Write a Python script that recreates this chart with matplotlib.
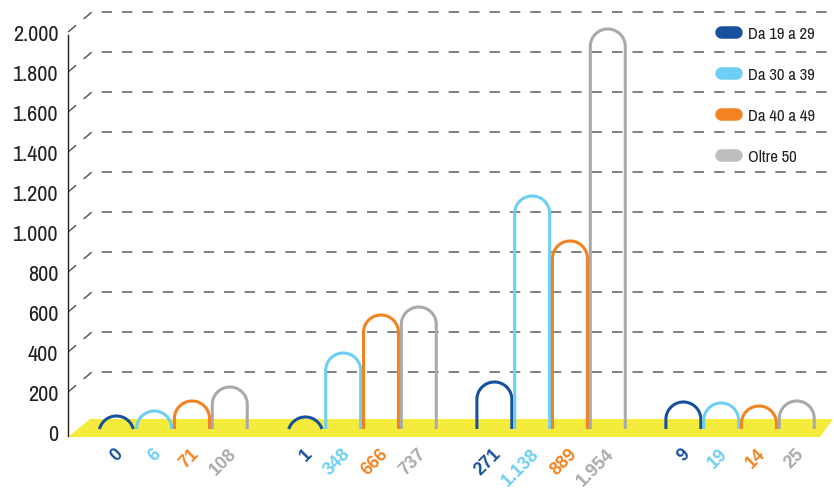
import numpy as np
import matplotlib.pyplot as plt
from matplotlib.lines import Line2D
from matplotlib.patches import Polygon

# ---------------------------------------
# Data
# ---------------------------------------

series = ["Da 19 a 29", "Da 30 a 39", "Da 40 a 49", "Oltre 50"]
colors = ["#17509c", "#6dcff6", "#f58220", "#a7a9ac"]
legend_colors = ["#17509c", "#6dcff6", "#f58220", "#bcbec0"]

# values printed under the arches, one row per group
values = [
    [0, 6, 71, 108],
    [1, 348, 666, 737],
    [271, 1138, 889, 1954],
    [9, 19, 14, 25],
]

# arch heights as drawn in the picture (y axis units)
drawn = [
    [30, 55, 105, 175],
    [25, 345, 535, 575],
    [200, 1130, 905, 1965],
    [100, 95, 80, 105],
]

yticks = list(range(0, 2001, 200))

TEXT = "#231f20"
FONT = ["Archivo Narrow", "Liberation Sans", "DejaVu Sans"]
FONT_BOLD = ["Liberation Sans", "DejaVu Sans"]


def fmt(v):
    return f"{v:,}".replace(",", ".")


# ---------------------------------------
# Figure
# ---------------------------------------

fig = plt.figure(figsize=(8.34, 4.89), dpi=100)
ax = fig.add_axes([68 / 834, 0, 766 / 834, 1])

x_left, x_right = -0.556, 3.497
ax.set_xlim(x_left, x_right)
ax.set_ylim(-280, 2165)

# depth of the fake 3d back wall
depth_x = 0.127
depth_y = 100

# gridlines: short slant from the axis, then along the back wall
for v in yticks[1:]:
    ax.plot(
        [x_left, x_left + depth_x, x_right],
        [v, v + depth_y, v + depth_y],
        color="#4d4d4d",
        lw=1.0,
        ls=(0, (7.5, 7.2)),
        zorder=1,
    )

# yellow floor
floor = Polygon(
    [(x_left, -25), (3.423, -25), (3.492, 65), (x_left + 0.116, 65)],
    closed=True,
    facecolor="#f4eb3c",
    edgecolor="none",
    zorder=2,
)
ax.add_patch(floor)

# arches: round top with straight legs, radius kept circular on screen
p0 = ax.transData.transform((0, 0))
p1 = ax.transData.transform((1, 1))
sx, sy = p1 - p0

pitch = 0.2
rx = 0.0925
ry = rx * sx / sy
base = 15
plane = 50

for g in range(len(values)):
    for j in range(len(series)):
        xc = g + (j - 1.5) * pitch
        top = drawn[g][j] + plane
        yc = top - ry
        if yc >= base:
            t = np.linspace(0, np.pi, 80)
            xs = np.concatenate([[xc + rx], xc + rx * np.cos(t), [xc - rx]])
            ys = np.concatenate([[base], yc + ry * np.sin(t), [base]])
        else:
            t0 = np.arcsin((base - yc) / ry)
            t = np.linspace(t0, np.pi - t0, 80)
            xs = xc + rx * np.cos(t)
            ys = yc + ry * np.sin(t)
        ax.plot(xs, ys, color=colors[j], lw=2.2, solid_capstyle="butt", zorder=4)

        ax.text(
            xc + 0.022, -95, fmt(values[g][j]),
            rotation=45, rotation_mode="anchor",
            ha="right", va="center",
            fontsize=13, fontweight="bold", family=FONT_BOLD,
            color=colors[j], zorder=5,
        )

# y axis
ax.set_yticks(yticks)
ax.set_yticklabels([fmt(v) for v in yticks], family=FONT, fontsize=16, color=TEXT)
ax.tick_params(axis="y", length=0, pad=7)
ax.set_xticks([])
for s in ["top", "right", "bottom"]:
    ax.spines[s].set_visible(False)
ax.spines["left"].set_bounds(-20, 1985)
ax.spines["left"].set_color(TEXT)
ax.spines["left"].set_linewidth(1.0)
ax.patch.set_visible(False)

# legend with pill shaped keys
handles = [
    Line2D([0], [0], color=c, lw=9, solid_capstyle="round")
    for c in legend_colors
]
ax.legend(
    handles, series,
    loc="upper left",
    bbox_to_anchor=(721 / 834, 1 - 27 / 489),
    bbox_transform=fig.transFigure,
    frameon=False,
    borderpad=0,
    borderaxespad=0,
    handlelength=0.9,
    handletextpad=0.7,
    labelspacing=1.55,
    prop={"family": FONT, "size": 12},
    labelcolor=TEXT,
)

fig.savefig("out.png", dpi=100)
